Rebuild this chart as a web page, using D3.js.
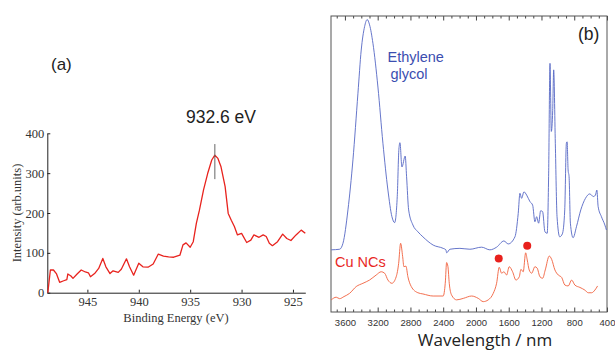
<!DOCTYPE html>
<html>
<head>
<meta charset="utf-8">
<script src="https://cdn.jsdelivr.net/npm/d3@7"></script>
<style>
  html, body { margin: 0; padding: 0; background: #fff; }
  svg { display: block; }
</style>
</head>
<body>
<div id="chart"></div>
<script>
// (a) XPS Cu 2p3/2 spectrum
const xpsEnergy = [948.85, 948.6, 948.3, 948.0, 947.7, 947.3, 947.0, 946.9, 946.6, 946.4, 946.0, 945.6,
  945.2, 944.9, 944.7, 944.3, 943.9, 943.5, 943.2, 942.8, 942.5, 942.0, 941.7, 941.2, 940.9, 940.5,
  940.0, 939.6, 939.1, 938.6, 938.1, 937.6, 937.1, 936.6, 936.0, 935.7, 935.4, 935.0, 934.7, 934.4,
  934.1, 933.7, 933.3, 932.9, 932.6, 932.3, 932.0, 931.6, 931.3, 931.0, 930.7, 930.4, 930.0, 929.5,
  929.1, 928.8, 928.3, 927.9, 927.6, 927.3, 927.0, 926.5, 926.0, 925.6, 925.2, 924.7, 924.2, 923.8];
const xpsIntensity = [0, 57, 57, 47, 26, 30, 33, 47, 42, 36, 47, 57,
  52, 50, 40, 48, 61, 86, 65, 48, 55, 51, 59, 85, 65, 44,
  74, 65, 64, 72, 97, 92, 90, 89, 94, 120, 125, 114, 128, 174,
  207, 258, 299, 333, 345, 337, 316, 266, 199, 182, 166, 145, 149, 126,
  132, 145, 139, 145, 141, 124, 118, 128, 147, 136, 131, 145, 157, 149];
const xpsTicksX = [945, 940, 935, 930, 925];
const xpsTicksY = [0, 100, 200, 300, 400];
const peakEnergy = 932.6;
const peakMarker = [285, 373];

// (b) FTIR spectra
const egWn = [3767, 3665, 3624, 3563, 3502, 3441, 3401, 3360, 3328, 3299, 3258, 3197, 3136, 3075, 3026,
  2993, 2961, 2941, 2928, 2904, 2864, 2847, 2822, 2770, 2709, 2648, 2522, 2400, 2367, 2358, 2318,
  2196, 2074, 1931, 1830, 1748, 1659, 1606, 1524, 1484, 1463, 1443, 1414, 1381, 1341, 1308, 1280,
  1259, 1235, 1210, 1186, 1158, 1130, 1113, 1096, 1080, 1063, 1051, 1031, 1010, 977, 945, 916,
  896, 887, 875, 863, 847, 814, 773, 720, 663, 610, 566, 541, 524, 508, 468, 426, 407];
const egVal = [21, 21.2, 23.2, 34.5, 51.4, 73.9, 88.5, 96.4, 98.8, 97, 90.8, 76, 57, 41.2, 32.2,
  30.2, 39, 55, 57.2, 49, 52.7, 45.7, 34.5, 29.4, 27.1, 25.4, 22.6, 21.5, 21, 20, 21.2,
  21.5, 21.2, 21.9, 21, 21.9, 24, 23, 25.4, 33.3, 40.1, 38.4, 40.6, 39.5, 37.3, 36.1, 30.5,
  32.2, 30, 34.2, 33.9, 27.1, 26.6, 45.7, 84, 61, 68, 81.8, 57, 32.2, 25.4, 26.4, 34.5,
  57, 57.5, 48, 45.7, 30, 25.1, 28.8, 34.5, 38.4, 39.9, 39, 39.5, 41.2, 35.6, 32.2, 29.4, 27.7];
const cuWn = [3767, 3706, 3665, 3612, 3543, 3462, 3380, 3299, 3218, 3157, 3115, 3075, 3026, 2974, 2944,
  2920, 2895, 2880, 2855, 2831, 2790, 2709, 2648, 2522, 2400, 2375, 2358, 2342, 2326, 2297, 2236,
  2155, 2053, 1972, 1911, 1850, 1789, 1748, 1716, 1687, 1659, 1626, 1594, 1553, 1512, 1471, 1451,
  1423, 1393, 1374, 1350, 1320, 1280, 1252, 1219, 1186, 1154, 1105, 1076, 1036, 995, 954, 914,
  873, 832, 792, 731, 670, 629, 588, 548, 515];
const cuVal = [4.1, 5, 4.5, 5.2, 6.3, 8.6, 9.7, 10.8, 12.5, 13.6, 13.1, 10.8, 9.7, 11.9, 16.4,
  23.2, 18.7, 15.3, 15.5, 11.9, 8.6, 6.5, 6.1, 5.4, 5.4, 9.7, 16.7, 15.3, 9.7, 5.7, 4.1,
  4.6, 5.4, 4.6, 3.5, 4.1, 6.3, 9.7, 15.1, 13.1, 13.6, 12.5, 15.3, 13.6, 10.8, 11.9, 14.4,
  13.6, 20, 17.6, 14.2, 13.1, 15.3, 14.8, 11.9, 11.4, 14.2, 18.9, 17.8, 14.2, 12.5, 11.7, 9.1,
  8.8, 10.8, 9.1, 8.3, 7.4, 6.5, 6.5, 7.4, 8.8];
const markWn = [1722, 1374];
const markVal = [18.1, 22.4];
const irTicksMajor = [3600, 3200, 2800, 2400, 2000, 1600, 1200, 800, 400];
const irTicksMinor = d3.range(500, 3800, 100).filter(v => v % 400 !== 0);

let svg = d3.select('#chart')
  .append('svg')
  .attr('width', 615)
  .attr('height', 352);

// ---------- panel (a) ----------
let serif = "'Liberation Serif', 'DejaVu Serif', serif";
let xA = d3.scaleLinear().domain([948.9, 923.8]).range([47.3, 305.3]);
let yA = d3.scaleLinear().domain([0, 400]).range([292.7, 133.3]);

let xAxisA = svg.append('g')
  .attr('transform', 'translate(0,' + yA(0) + ')')
  .call(d3.axisBottom(xA).tickValues(xpsTicksX).tickSize(-3).tickSizeOuter(0).tickPadding(4));
let yAxisA = svg.append('g')
  .attr('transform', 'translate(' + xA.range()[0] + ',0)')
  .call(d3.axisLeft(yA).tickValues(xpsTicksY).tickSize(-3).tickSizeOuter(0).tickPadding(3));
[xAxisA, yAxisA].forEach(function (g) {
  g.select('.domain').attr('stroke', '#222').attr('stroke-width', 1);
  g.selectAll('.tick line').attr('stroke', '#222');
  g.selectAll('text').style('font-family', serif).style('font-size', '12.5px').attr('fill', '#333');
});

svg.append('text')
  .attr('x', 176).attr('y', 322)
  .attr('text-anchor', 'middle')
  .style('font-family', serif).style('font-size', '12.5px').attr('fill', '#333')
  .text('Binding Energy (eV)');
svg.append('text')
  .attr('transform', 'translate(21,213) rotate(-90)')
  .attr('text-anchor', 'middle')
  .style('font-family', serif).style('font-size', '12.5px').attr('fill', '#333')
  .text('Intensity (arb.units)');

let lineA = d3.line()
  .x(function (d, i) { return xA(xpsEnergy[i]); })
  .y(function (d) { return yA(d); });
svg.append('path')
  .attr('d', lineA(xpsIntensity))
  .attr('fill', 'none')
  .attr('stroke', '#e8231e')
  .attr('stroke-width', 1.3)
  .attr('stroke-linejoin', 'round');

// peak marker
svg.append('line')
  .attr('x1', xA(peakEnergy)).attr('x2', xA(peakEnergy))
  .attr('y1', yA(peakMarker[0])).attr('y2', yA(peakMarker[1]))
  .attr('stroke', '#666').attr('stroke-width', 1);

let sans = "'Liberation Sans', Arial, sans-serif";
svg.append('text')
  .attr('x', 221).attr('y', 122.5)
  .attr('text-anchor', 'middle')
  .style('font-family', sans).style('font-size', '17.5px').attr('fill', '#222')
  .text(peakEnergy + ' eV');
svg.append('text')
  .attr('x', 51).attr('y', 70)
  .style('font-family', sans).style('font-size', '17px').attr('fill', '#222')
  .text('(a)');

// ---------- panel (b) ----------
let xB = d3.scaleLinear().domain([3770, 400]).range([331, 607]);
let yB = d3.scaleLinear().domain([0, 100]).range([312, 16]);

// minor and major ticks, bottom and top
let bottomMinor = svg.append('g')
  .attr('transform', 'translate(0,312)')
  .call(d3.axisBottom(xB).tickValues(irTicksMinor).tickSize(-2.5).tickFormat(''));
let bottomMajor = svg.append('g')
  .attr('transform', 'translate(0,312)')
  .call(d3.axisBottom(xB).tickValues(irTicksMajor).tickSize(-4.5).tickPadding(7).tickFormat(d3.format('d')));
let topMinor = svg.append('g')
  .attr('transform', 'translate(0,16)')
  .call(d3.axisTop(xB).tickValues(irTicksMinor).tickSize(-2.5).tickFormat(''));
let topMajor = svg.append('g')
  .attr('transform', 'translate(0,16)')
  .call(d3.axisTop(xB).tickValues(irTicksMajor).tickSize(-4.5).tickFormat(''));
[bottomMinor, bottomMajor, topMinor, topMajor].forEach(function (g) {
  g.select('.domain').remove();
  g.selectAll('.tick line').attr('stroke', '#444');
});
bottomMajor.selectAll('text')
  .style('font-family', sans).style('font-size', '9.5px').attr('fill', '#333');

svg.append('rect')
  .attr('x', 331).attr('y', 16)
  .attr('width', 276).attr('height', 296)
  .attr('fill', 'none')
  .attr('stroke', '#555')
  .attr('stroke-width', 1);

let lineB = d3.line()
  .curve(d3.curveMonotoneX)
  .x(function (d) { return xB(d[0]); })
  .y(function (d) { return yB(d[1]); });

svg.append('path')
  .attr('d', lineB(d3.zip(egWn, egVal)))
  .attr('fill', 'none')
  .attr('stroke', '#5566c4')
  .attr('stroke-width', 0.9);
svg.append('path')
  .attr('d', lineB(d3.zip(cuWn, cuVal)))
  .attr('fill', 'none')
  .attr('stroke', '#f0603c')
  .attr('stroke-width', 0.9);

svg.selectAll('circle.mark')
  .data(d3.zip(markWn, markVal))
  .enter().append('circle')
  .attr('class', 'mark')
  .attr('cx', function (d) { return xB(d[0]); })
  .attr('cy', function (d) { return yB(d[1]); })
  .attr('r', 4)
  .attr('fill', '#e8211d');

svg.append('text')
  .attr('x', 387.5).attr('y', 61.5)
  .style('font-family', sans).style('font-size', '14.5px').attr('fill', '#3b4eb0')
  .text('Ethylene');
svg.append('text')
  .attr('x', 390.5).attr('y', 79)
  .style('font-family', sans).style('font-size', '14.5px').attr('fill', '#3b4eb0')
  .text('glycol');
svg.append('text')
  .attr('x', 335).attr('y', 266.5)
  .style('font-family', sans).style('font-size', '14.5px').attr('fill', '#e8281f')
  .text('Cu NCs');
svg.append('text')
  .attr('x', 578).attr('y', 40)
  .style('font-family', sans).style('font-size', '17.5px').attr('fill', '#222')
  .text('(b)');

svg.append('text')
  .attr('x', 485).attr('y', 346)
  .attr('text-anchor', 'middle')
  .style('font-family', "'Open Sans', sans-serif").style('font-size', '17px').attr('fill', '#222')
  .text('Wavelength / nm');
</script>
</body>
</html>
